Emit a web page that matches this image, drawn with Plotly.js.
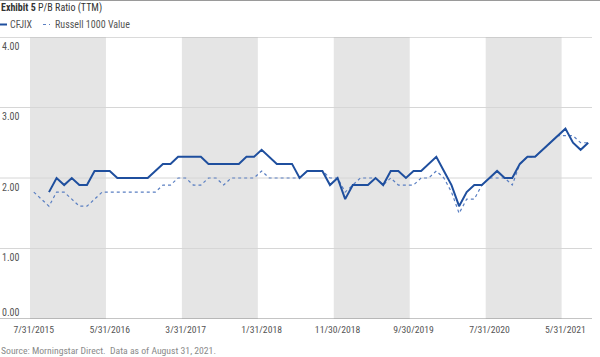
<!DOCTYPE html>
<html>
<head>
<meta charset="utf-8">
<script src="https://cdn.plot.ly/plotly-3.0.1.min.js"></script>
<style>
html,body{margin:0;padding:0;background:#fff;}
#chart{width:600px;height:357px;}
</style>
</head>
<body>
<div id="chart"></div>
<script>
// ---- data ----
const months = [
  '7/31/2015','8/31/2015','9/30/2015','10/31/2015','11/30/2015','12/31/2015',
  '1/31/2016','2/29/2016','3/31/2016','4/30/2016','5/31/2016','6/30/2016','7/31/2016','8/31/2016','9/30/2016','10/31/2016','11/30/2016','12/31/2016',
  '1/31/2017','2/28/2017','3/31/2017','4/30/2017','5/31/2017','6/30/2017','7/31/2017','8/31/2017','9/30/2017','10/31/2017','11/30/2017','12/31/2017',
  '1/31/2018','2/28/2018','3/31/2018','4/30/2018','5/31/2018','6/30/2018','7/31/2018','8/31/2018','9/30/2018','10/31/2018','11/30/2018','12/31/2018',
  '1/31/2019','2/28/2019','3/31/2019','4/30/2019','5/31/2019','6/30/2019','7/31/2019','8/31/2019','9/30/2019','10/31/2019','11/30/2019','12/31/2019',
  '1/31/2020','2/29/2020','3/31/2020','4/30/2020','5/31/2020','6/30/2020','7/31/2020','8/31/2020','9/30/2020','10/31/2020','11/30/2020','12/31/2020',
  '1/31/2021','2/28/2021','3/31/2021','4/30/2021','5/31/2021','6/30/2021','7/31/2021','8/31/2021'
];
const cfjix = [
  null,null,1.8,2.0,1.9,2.0,
  1.9,1.9,2.1,2.1,2.1,2.0,2.0,2.0,2.0,2.0,2.1,2.2,
  2.2,2.3,2.3,2.3,2.3,2.2,2.2,2.2,2.2,2.2,2.3,2.3,
  2.4,2.3,2.2,2.2,2.2,2.0,2.1,2.1,2.1,1.9,2.0,1.7,
  1.9,1.9,1.9,2.0,1.9,2.1,2.1,2.0,2.1,2.1,2.2,2.3,
  2.1,1.9,1.6,1.8,1.9,1.9,2.0,2.1,2.0,2.0,2.2,2.3,
  2.3,2.4,2.5,2.6,2.7,2.5,2.4,2.5
];
const russell = [
  1.8,1.7,1.6,1.8,1.8,1.7,
  1.6,1.6,1.7,1.8,1.8,1.8,1.8,1.8,1.8,1.8,1.8,1.9,
  1.9,2.0,2.0,1.9,1.9,2.0,2.0,1.9,2.0,2.0,2.0,2.0,
  2.1,2.0,2.0,2.0,2.0,2.0,2.1,2.1,2.1,2.0,2.0,1.8,
  1.9,2.0,2.0,2.0,1.9,2.0,1.9,1.9,1.9,2.0,2.0,2.1,
  2.0,1.8,1.5,1.7,1.7,1.9,2.0,2.0,2.0,1.9,2.2,2.3,
  2.3,2.4,2.5,2.6,2.6,2.6,2.5,2.5
];
const xTickLabels = ['7/31/2015','5/31/2016','3/31/2017','1/31/2018','11/30/2018','9/30/2019','7/31/2020','5/31/2021'];
const yTicks = [0,1,2,3,4];
const yTickLabels = ['0.00','1.00','2.00','3.00','4.00'];
const seriesNames = ['CFJIX','Russell 1000 Value'];
const titleBold = 'Exhibit 5';
const titleRest = 'P/B Ratio (TTM)';
const sourceText = 'Source: Morningstar Direct.  Data as of August 31, 2021.';

// ---- styling ----
const FONT = '"Liberation Sans Narrow", "Roboto Condensed", Roboto, Arial, sans-serif';
const C1 = '#1f4f9e';
const C2 = '#5a7fc2';
const ML = 30, MR = 8, MT = 37, MB = 38;
const PW = 600 - ML - MR;
const PH = 357 - MT - MB;
const px = p => p / PW; // pixel offset -> paper fraction

const shapes = [];
// alternating shaded bands between every other pair of ticks
const tickIdx = xTickLabels.map(t => months.indexOf(t));
for (let k = 0; k < tickIdx.length; k += 2) {
  shapes.push({type:'rect', xref:'x', yref:'paper', x0: tickIdx[k]-0.5, x1: tickIdx[k+1]-0.5, y0:0, y1:1,
    fillcolor:'#e5e5e5', line:{width:0}, layer:'below'});
}
// horizontal rules that extend over the tick labels
yTicks.forEach(v => {
  const edge = (v === 0);
  const top = (v === yTicks[yTicks.length-1]);
  shapes.push({type:'line', xref:'paper', yref:'y', x0: px(-ML), x1: 1, y0: v, y1: v,
    line:{color: edge ? '#8a8a8a' : (top ? '#b5b5b5' : '#d6d6d6'), width: edge ? 1.2 : 1}, layer:'below'});
});
// top border of the figure
shapes.push({type:'line', xref:'paper', yref:'paper', x0: px(-ML), x1: px(600-ML), y0: 1 + 36.5/PH, y1: 1 + 36.5/PH,
  line:{color:'#9a9a9a', width:1}});
// legend samples
const legY = 1 + (MT - 24.5)/PH;
shapes.push({type:'line', xref:'paper', yref:'paper', x0: px(-ML+0), x1: px(-ML+7), y0: legY, y1: legY, line:{color:C1, width:2}});
shapes.push({type:'line', xref:'paper', yref:'paper', x0: px(-ML+43), x1: px(-ML+50), y0: legY, y1: legY, line:{color:C2, width:1.2, dash:'dot'}});

const annotations = [];
yTicks.forEach((v, i) => {
  annotations.push({xref:'paper', yref:'y', x:0, y:v, xanchor:'right', yanchor:'middle', xshift:-8,
    yshift: v === 0 ? 7 : -9, text: yTickLabels[i], showarrow:false,
    font:{family:FONT, size:10, color:'#555'}});
});
annotations.push({xref:'paper', yref:'paper', x:0, y:1, xanchor:'left', yanchor:'middle', xshift:-ML-1, yshift: MT-8,
  text:'<b>'+titleBold+'</b> '+titleRest, showarrow:false, font:{family:FONT, size:10, color:'#333'}});
annotations.push({xref:'paper', yref:'paper', x:0, y:1, xanchor:'left', yanchor:'middle', xshift:-ML+8, yshift: MT-24.5,
  text:seriesNames[0], showarrow:false, font:{family:FONT, size:10, color:'#555'}});
annotations.push({xref:'paper', yref:'paper', x:0, y:1, xanchor:'left', yanchor:'middle', xshift:-ML+53, yshift: MT-24.5,
  text:seriesNames[1], showarrow:false, font:{family:FONT, size:10, color:'#555'}});
annotations.push({xref:'paper', yref:'paper', x:0, y:0, xanchor:'left', yanchor:'middle', xshift:-ML-1, yshift: -31,
  text:sourceText, showarrow:false, font:{family:FONT, size:9.7, color:'#8a8a8a'}});

const traces = [
  {x: months, y: cfjix, name: seriesNames[0], type:'scatter', mode:'lines', line:{color:C1, width:2}, connectgaps:false},
  {x: months, y: russell, name: seriesNames[1], type:'scatter', mode:'lines', line:{color:C2, width:1.2, dash:'dot'}}
];
// draw the benchmark beneath the fund line
traces.reverse();

const layout = {
  width:600, height:357,
  margin:{l:ML, r:MR, t:MT, b:MB, pad:0},
  paper_bgcolor:'#fff', plot_bgcolor:'rgba(0,0,0,0)',
  showlegend:false,
  font:{family:FONT, size:10, color:'#555'},
  xaxis:{type:'category', range:[-0.5, months.length-0.5], tickmode:'array', tickvals:xTickLabels, ticktext:xTickLabels,
    showgrid:false, zeroline:false, showline:false, ticks:'', tickangle:0, fixedrange:true, ticklabelstandoff:3,
    tickfont:{family:FONT, size:9.7, color:'#555'}},
  yaxis:{range:[0,4], showgrid:false, zeroline:false, showline:false, showticklabels:false, ticks:'', fixedrange:true},
  shapes: shapes,
  annotations: annotations
};

Plotly.newPlot('chart', traces, layout, {displayModeBar:false, staticPlot:true});
</script>
</body>
</html>
